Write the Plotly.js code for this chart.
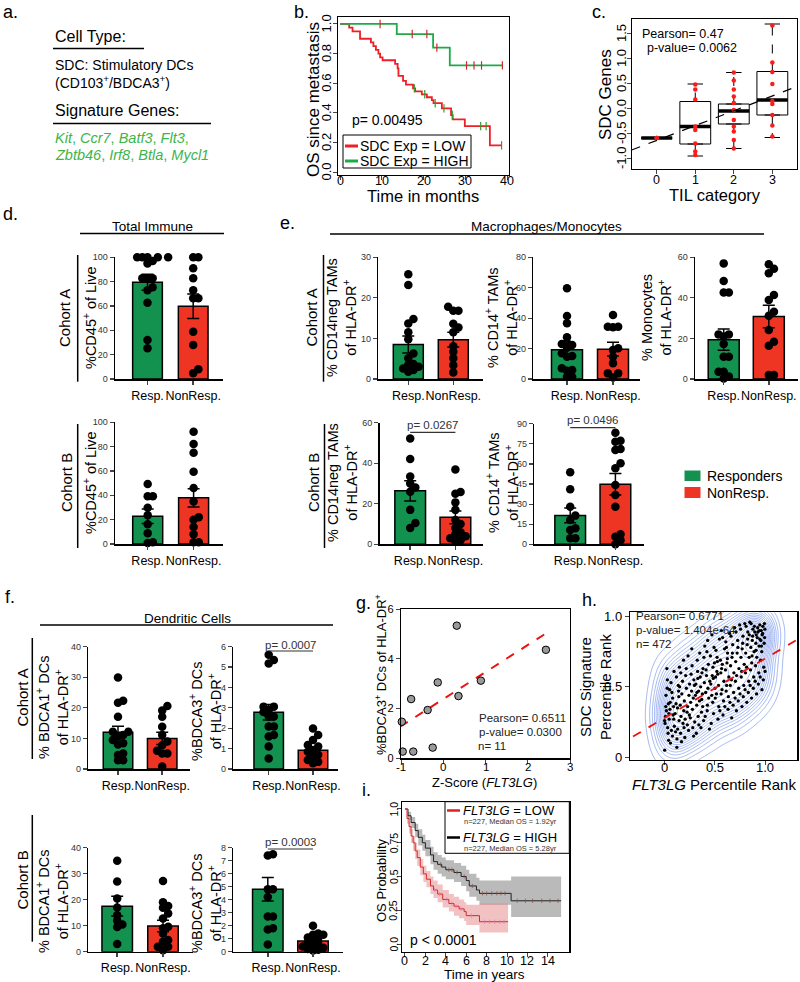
<!DOCTYPE html>
<html><head><meta charset="utf-8">
<script src="https://cdn.plot.ly/plotly-3.0.1.min.js"></script>
<style>body{margin:0;background:#fff}#chart{width:800px;height:982px}</style>
</head><body><div id="chart"></div>
<script>
// ================= DATA =================
const groupLabels = ['Resp.', 'NonResp.'];

// panel b : Kaplan-Meier (months)
const bHighT = [0, 13.6, 22.3, 26.3];
const bHighS = [1.0, 0.932, 0.84, 0.72];
const bHighEnd = 39.0;
const bHighCensor = [9.6, 17.3, 20.8, 23.2, 30.3, 32.1, 33.9, 38.9];
const bLowT = [0, 2.2, 3.0, 4.8, 7.4, 8.0, 8.6, 9.2, 9.6, 10.2, 13.2, 13.8, 14.0, 15.1, 15.8, 17.5, 18.0, 19.6, 20.8, 22.0, 22.4, 24.4, 26.6, 27.0, 29.9, 35.9];
const bLowS = [1.0, 0.975, 0.95, 0.90, 0.875, 0.85, 0.825, 0.80, 0.775, 0.755, 0.73, 0.70, 0.65, 0.615, 0.59, 0.565, 0.545, 0.525, 0.505, 0.485, 0.465, 0.43, 0.385, 0.355, 0.31, 0.18];
const bLowEnd = 38.7;
const bLowCensor = [17.8, 20.3, 22.8, 24.9, 26.9, 33.7, 35.0, 38.7];
const bXTicks = [0, 10, 20, 30, 40];
const bYTicks = [0, 0.2, 0.4, 0.6, 0.8, 1.0];

// panel c : boxplot SDC genes vs TIL category
const cGroups = [0, 1, 2, 3];
const cQ1 = [-0.6, -0.72, -0.32, -0.14];
const cMed = [-0.6, -0.37, -0.06, 0.16];
const cQ3 = [-0.6, 0.13, 0.08, 0.73];
const cLo = [-0.6, -0.96, -0.81, -0.59];
const cHi = [-0.6, 0.48, 0.71, 1.68];
const cPts = [
  [-0.6, -0.6, -0.6],
  [0.47, 0.37, 0.17, -0.37, -0.44, -0.71, -0.87, -0.94],
  [0.71, 0.55, 0.37, 0.23, 0.10, -0.04, -0.24, -0.37, -0.47, -0.64, -0.81],
  [1.65, 0.91, 0.72, 0.48, 0.14, 0.08, -0.14, -0.35, -0.57]
];
const cFitX = [-0.65, 3.64];
const cFitY = [-0.84, 0.43];
const cYTicks = [-1, -0.5, 0, 0.5, 1, 1.5];

// panel d : Total immune
const dA_mean = [79.5, 59.8], dA_sem = [6.6, 10.0];
const dA_resp = [100, 100, 100, 100, 100, 97, 95, 82.7, 82.7, 82.7, 75.3, 73, 62.7, 32, 25.2];
const dA_non = [100, 100, 91, 82.7, 73, 66.3, 66.3, 38.9, 28, 8, 4.7];
const dB_mean = [22.8, 38.0], dB_sem = [6.0, 7.5];
const dB_resp = [49.3, 39.3, 39.3, 29.8, 23.6, 16.3, 8.9, 1.4, 0.8];
const dB_non = [92.3, 82.2, 75, 59.4, 46, 35, 22, 20, 14, 8, 1.5, 1.5];

// panel e : Macrophages / Monocytes
const eA1_mean = [8.5, 9.7], eA1_sem = [2.1, 1.8];
const eA1_resp = [25.8, 23.2, 14.8, 13.7, 11.5, 9.8, 6.3, 5.1, 3.7, 3.5, 3.0, 2.6, 2.2, 1.8];
const eA1_non = [17.8, 16.8, 16.8, 13.6, 12.7, 11.5, 8.1, 6.7, 5.1, 3.4, 1.6];
const eA2_mean = [19.3, 19.6], eA2_sem = [4.1, 4.5];
const eA2_resp = [59.6, 41.4, 36.6, 27.4, 23.9, 23, 22.4, 20.5, 16.9, 15.1, 14.7, 7, 5.9, 5.5, 1.5, 1.5];
const eA2_non = [42.1, 34.4, 34.4, 34, 20.2, 19.1, 14.7, 10.3, 3.7, 3.7, 1];
const eA3_mean = [19.4, 30.8], eA3_sem = [5.2, 5.5];
const eA3_resp = [57, 48.3, 42.6, 42.6, 22, 22, 20.9, 17.3, 11, 11, 3.6, 3.6, 1.2, 0.3];
const eA3_non = [56.6, 54.3, 52.1, 41.4, 39, 33.2, 31.2, 24.2, 18.4, 16.4, 2, 2];
const eB1_mean = [26.4, 13.3], eB1_sem = [5.0, 3.2];
const eB1_resp = [52.3, 42.1, 33.5, 30, 28, 26, 17, 10.5, 8];
const eB1_non = [36.9, 25.8, 25, 20.7, 17, 12, 10, 8, 6, 5, 4, 3, 2, 1.5];
const eB2_mean = [21.5, 44.8], eB2_sem = [5.5, 8.0];
const eB2_resp = [53.7, 41, 28.1, 21.4, 18.2, 11.9, 10.7, 4.5, 4.5];
const eB2_non = [83.3, 77.3, 76.6, 71.1, 70.4, 60.4, 56.7, 44.3, 36.8, 28.1, 7.5, 5.7, 3, 0];
const eB1_p = 'p= 0.0267', eB2_p = 'p= 0.0496';

// panel f : Dendritic cells
const fA1_mean = [12, 10], fA1_sem = [2.0, 2.0];
const fA1_resp = [29.9, 22.3, 21.7, 17.1, 12.2, 12.2, 11.1, 10.6, 9.5, 8.4, 8, 5.1, 4.6, 2.9, 2.9];
const fA1_non = [20.6, 19.1, 17.1, 13.8, 11.1, 9, 7.8, 6, 5.1, 5.1, 0.8];
const fA2_mean = [2.78, 0.92], fA2_sem = [0.38, 0.16];
const fA2_resp = [5.6, 5.35, 5.18, 3.06, 3.06, 2.9, 2.8, 2.57, 2.57, 2.08, 2.08, 1.67, 1.6, 1.1, 0.52];
const fA2_non = [1.99, 1.67, 1.42, 1.18, 1.1, 0.93, 0.85, 0.7, 0.6, 0.44, 0.35, 0.28];
const fB1_mean = [17.5, 9.9], fB1_sem = [3.8, 2.2];
const fB1_resp = [35, 27, 20.5, 17, 14, 12, 10.5, 9.5, 3];
const fB1_non = [27.2, 19, 17.6, 16.9, 14.7, 12.8, 9.6, 9, 7, 4.5, 3.8, 1.9, 1.9, 0.6];
const fB2_mean = [4.8, 0.82], fB2_sem = [0.9, 0.19];
const fB2_resp = [7.5, 7.4, 4.8, 4.8, 4.2, 2.7, 2.7, 1.8, 1.7, 0.56];
const fB2_non = [2.0, 1.4, 1.3, 1.3, 1.1, 1.0, 0.9, 0.7, 0.6, 0.5, 0.4, 0.3, 0.2, 0.15, 0.1];
const fA2_p = 'p= 0.0007', fB2_p = 'p= 0.0003';

// panel g : BDCA3 vs Z-score
const gX = [0.32, 2.43, -0.13, 0.89, -0.76, 0.36, -0.37, -0.98, -0.96, -0.71, -0.25];
const gY = [5.33, 4.36, 3.05, 3.12, 2.38, 2.50, 1.94, 1.47, 0.27, 0.27, 0.43];
const gFitX = [-1.02, 2.43], gFitY = [1.27, 5.02];
const gXTicks = [-1, 0, 1, 2, 3];

// panel h : percentile rank scatter (estimated sample of the point cloud)
const hX = [0.004,0.012,0.021,0.003,0.034,0.041,0.017,0.026,0.038,0.046,0.008,0.049,0.029,0.043,0.015,0.031,
0.056,0.071,0.083,0.094,0.062,0.067,0.088,0.097,0.059,0.100,0.076,0.081,0.092,0.053,
0.108,0.121,0.133,0.144,0.117,0.126,0.139,0.147,0.150,0.112,0.131,0.142,0.125,
0.158,0.166,0.181,0.193,0.199,0.162,0.174,0.186,0.191,0.153,0.171,0.196,0.164,
0.207,0.219,0.232,0.241,0.213,0.226,0.236,0.245,0.249,0.204,0.229,0.251,0.218,
0.262,0.271,0.283,0.294,0.258,0.276,0.288,0.291,0.299,0.266,0.279,0.302,0.273,
0.309,0.322,0.331,0.343,0.314,0.327,0.336,0.341,0.349,0.318,0.333,0.352,0.324,
0.361,0.372,0.384,0.391,0.357,0.369,0.378,0.393,0.398,0.364,0.381,0.402,0.374,
0.411,0.419,0.428,0.437,0.406,0.423,0.433,0.441,0.448,0.415,0.431,0.452,0.426,
0.462,0.471,0.483,0.489,0.458,0.476,0.481,0.494,0.503,0.466,0.486,0.498,0.473,
0.509,0.518,0.527,0.541,0.513,0.522,0.533,0.538,0.547,0.506,0.531,0.552,0.524,
0.561,0.573,0.579,0.588,0.557,0.569,0.583,0.592,0.598,0.564,0.576,0.601,0.567,
0.607,0.619,0.628,0.636,0.611,0.622,0.633,0.641,0.648,0.614,0.626,0.652,0.617,
0.658,0.667,0.679,0.688,0.662,0.672,0.683,0.691,0.699,0.655,0.676,0.703,0.669,
0.709,0.718,0.728,0.739,0.712,0.723,0.734,0.741,0.748,0.706,0.731,0.752,0.716,
0.761,0.768,0.781,0.789,0.757,0.773,0.784,0.793,0.799,0.764,0.778,0.802,0.771,
0.808,0.817,0.829,0.838,0.812,0.823,0.834,0.842,0.849,0.806,0.827,0.852,0.819,0.844,
0.859,0.868,0.879,0.887,0.862,0.873,0.883,0.891,0.898,0.856,0.877,0.902,0.866,0.894,0.871,
0.909,0.918,0.927,0.938,0.913,0.922,0.933,0.941,0.948,0.906,0.929,0.952,0.916,0.944,0.911,0.947,
0.958,0.967,0.978,0.987,0.962,0.971,0.983,0.991,0.998,0.956,0.976,1.000,0.969,0.994,0.964,0.996];
const hY = [0.05,0.29,0.33,0.26,0.21,0.38,0.44,0.63,0.17,0.31,0.24,0.27,0.49,0.12,0.36,0.55,
0.34,0.19,0.42,0.27,0.10,0.53,0.30,0.61,0.39,0.22,0.46,0.15,0.36,0.48,
0.31,0.57,0.20,0.43,0.38,0.13,0.51,0.26,0.64,0.18,0.35,0.47,0.07,
0.37,0.29,0.54,0.33,0.40,0.17,0.45,0.24,0.69,0.50,0.11,0.21,0.60,
0.27,0.49,0.36,0.19,0.58,0.32,0.72,0.44,0.30,0.14,0.23,0.52,0.63,
0.39,0.47,0.21,0.55,0.28,0.65,0.42,0.15,0.51,0.59,0.34,0.25,0.77,
0.44,0.37,0.61,0.23,0.52,0.69,0.29,0.47,0.40,0.17,0.56,0.74,0.46,
0.50,0.41,0.63,0.26,0.57,0.32,0.45,0.71,0.53,0.21,0.36,0.79,0.60,
0.46,0.58,0.37,0.66,0.29,0.75,0.49,0.42,0.20,0.62,0.83,0.54,0.33,
0.52,0.44,0.64,0.31,0.72,0.58,0.39,0.78,0.49,0.24,0.56,0.67,0.87,
0.57,0.45,0.68,0.36,0.76,0.61,0.27,0.51,0.84,0.42,0.59,0.33,0.71,
0.60,0.48,0.85,0.40,0.69,0.63,0.30,0.54,0.77,0.45,0.66,0.36,0.90,
0.62,0.51,0.74,0.43,0.82,0.67,0.34,0.57,0.88,0.47,0.70,0.39,0.78,
0.65,0.55,0.80,0.46,0.86,0.71,0.37,0.60,0.92,0.51,0.74,0.42,0.28,
0.68,0.58,0.83,0.49,0.89,0.74,0.40,0.63,0.94,0.54,0.78,0.45,0.33,
0.71,0.61,0.86,0.51,0.91,0.77,0.43,0.66,0.95,0.57,0.81,0.48,0.36,
0.74,0.64,0.89,0.54,0.93,0.80,0.46,0.71,0.96,0.60,0.84,0.51,0.39,0.87,
0.78,0.67,0.91,0.57,0.95,0.83,0.49,0.75,0.89,0.62,0.86,0.54,0.42,0.93,0.72,
0.81,0.71,0.92,0.60,0.87,0.85,0.52,0.79,0.94,0.65,0.89,0.57,0.45,0.90,0.76,0.84,
0.83,0.75,0.93,0.64,0.90,0.87,0.55,0.81,0.91,0.69,0.88,0.61,0.48,0.95,0.79,0.85];
const hFitX = [-0.31, 1.315], hFitY = [0.147, 0.834];
const hTicks = [0, 0.5, 1], hTickText = ['0', '0.5', '1.0'];

// panel i : Kaplan-Meier (years) with confidence bands
const iHighT = [0, 0.3, 0.6, 1.0, 1.3, 1.7, 2.0, 2.5, 2.8, 3.2, 3.6, 4.0, 4.8, 5.5, 6.0, 6.3, 7.0, 7.3, 10.4];
const iHighS = [1.0, 0.95, 0.90, 0.84, 0.79, 0.75, 0.71, 0.66, 0.61, 0.59, 0.57, 0.55, 0.53, 0.50, 0.47, 0.43, 0.40, 0.375, 0.32];
const iHighUp = [1.0, 0.98, 0.94, 0.89, 0.85, 0.81, 0.77, 0.72, 0.68, 0.66, 0.64, 0.62, 0.60, 0.58, 0.55, 0.52, 0.49, 0.47, 0.50];
const iHighLo = [1.0, 0.92, 0.86, 0.79, 0.73, 0.69, 0.65, 0.59, 0.55, 0.52, 0.50, 0.48, 0.46, 0.43, 0.39, 0.35, 0.32, 0.29, 0.20];
const iHighEnd = 15.3;
const iHighCensor = [3.5, 4.3, 4.6, 5.1, 5.8, 6.6, 7.6, 8.0, 8.5, 9.0, 9.4, 9.8, 11.0, 11.8, 12.5, 13.4, 14.2, 15.0];
const iLowT = [0, 0.2, 0.4, 0.6, 0.8, 1.0, 1.2, 1.5, 1.8, 2.1, 2.5, 2.8, 3.2, 3.7, 4.3, 4.8, 5.3, 5.8, 6.0, 7.3];
const iLowS = [1.0, 0.93, 0.87, 0.80, 0.75, 0.69, 0.64, 0.57, 0.52, 0.48, 0.43, 0.40, 0.37, 0.33, 0.30, 0.28, 0.26, 0.24, 0.21, 0.165];
const iLowUp = [1.0, 0.96, 0.91, 0.85, 0.80, 0.75, 0.70, 0.63, 0.58, 0.54, 0.50, 0.47, 0.44, 0.40, 0.37, 0.35, 0.33, 0.31, 0.29, 0.30];
const iLowLo = [1.0, 0.89, 0.82, 0.75, 0.69, 0.63, 0.58, 0.51, 0.46, 0.42, 0.37, 0.34, 0.31, 0.27, 0.24, 0.21, 0.19, 0.17, 0.14, 0.085];
const iLowEnd = 10.1;
const iLowCensor = [2.9, 3.4, 4.1, 4.6, 5.0, 5.5, 6.5, 7.8, 8.3, 8.8, 9.3, 9.7];
const iXTicks = [0, 2, 4, 6, 8, 10, 12, 14];
const iYTicks = [0, 0.25, 0.5, 0.75, 1.0];
const iYTickText = ['0.0', '0.25', '0.5', '0.75', '1.0'];

// ================= DRAWING =================
const W = 800, H = 982;
const X = v => v / W, Y = v => 1 - v / H;
const FONT = 'Liberation Sans, Arial, Helvetica, sans-serif';
const GREEN = '#12924e', RED = '#ee3524';
const layout = {width: W, height: H, margin: {l: 0, r: 0, t: 0, b: 0}, paper_bgcolor: '#fff',
  plot_bgcolor: 'rgba(0,0,0,0)', showlegend: false, font: {family: FONT, color: '#000'},
  shapes: [], annotations: []};
const traces = [];
let nAx = 0;
function axes(xd, yd, xo, yo) {
  nAx++; const s = nAx === 1 ? '' : String(nAx);
  layout['xaxis' + s] = Object.assign({domain: [X(xd[0]), X(xd[1])], anchor: 'y' + s, showgrid: false, zeroline: false, fixedrange: true}, xo);
  layout['yaxis' + s] = Object.assign({domain: [Y(yd[1]), Y(yd[0])], anchor: 'x' + s, showgrid: false, zeroline: false, fixedrange: true}, yo);
  return {x: 'x' + s, y: 'y' + s};
}
function txt(x, y, text, o) {
  o = o || {};
  const f = Object.assign({size: 13, family: FONT, color: '#000'}, o.font || {});
  const a = Object.assign({xref: 'paper', yref: 'paper', x: X(x), y: Y(y), text: text, showarrow: false,
    xanchor: 'center', yanchor: 'middle'}, o);
  a.font = f;
  layout.annotations.push(a);
}
// tick labels placed at axis values (R-style axes)
function xLabels(ax, vals, texts, ypx, size) {
  vals.forEach((v, i) => layout.annotations.push({xref: ax.x, yref: 'paper', x: v, y: Y(ypx), text: texts[i], showarrow: false,
    xanchor: 'center', yanchor: 'middle', font: {size: size, family: FONT, color: '#000'}}));
}
function yLabels(ax, vals, texts, xpx, size, angle) {
  vals.forEach((v, i) => layout.annotations.push({xref: 'paper', yref: ax.y, x: X(xpx), y: v, text: texts[i], showarrow: false,
    textangle: angle, xanchor: 'center', yanchor: 'middle', font: {size: size, family: FONT, color: '#000'}}));
}
function seg(x0, y0, x1, y1, w, c, extra) {
  layout.shapes.push(Object.assign({type: 'line', xref: 'paper', yref: 'paper', x0: X(x0), x1: X(x1), y0: Y(y0), y1: Y(y1),
    line: {color: c || '#000', width: w || 1.5}}, extra || {}));
}
function stepXY(t, s, end) { return {x: t.concat([end]), y: s.concat([s[s.length - 1]])}; }
function survAt(t, s, tc) { let v = s[0]; for (let i = 0; i < t.length; i++) if (t[i] <= tc) v = s[i]; return v; }
function swarm(vals, pxPerY, d) {
  const idx = vals.map((v, i) => i).sort((a, b) => vals[a] - vals[b]);
  const placed = []; const off = new Array(vals.length).fill(0);
  const cands = [0]; for (let s = 1; s < 16; s++) { cands.push(s * d * 0.6, -s * d * 0.6); }
  idx.forEach(i => {
    const yp = vals[i] * pxPerY;
    for (const c of cands) {
      if (placed.every(p => Math.hypot(p[0] - c, p[1] - yp) >= d * 0.6)) { off[i] = c; placed.push([c, yp]); break; }
    }
  });
  return off;
}
const boxAx = {ticks: 'outside', ticklen: 4, showline: true, mirror: true, linecolor: '#000', linewidth: 1, showticklabels: false};

// ---------- panel a ----------
txt(1, 12, 'a.', {xanchor: 'left', font: {size: 18}});
txt(53, 37, 'Cell Type:', {xanchor: 'left', font: {size: 16}});
seg(53, 48.5, 144, 48.5, 1.5);
txt(53, 65, 'SDC: Stimulatory DCs', {xanchor: 'left', font: {size: 14}});
txt(53, 82, '(CD103<sup>+</sup>/BDCA3<sup>+</sup>)', {xanchor: 'left', font: {size: 14}});
txt(53, 110, 'Signature Genes:', {xanchor: 'left', font: {size: 16}});
seg(53, 123.5, 211, 123.5, 1.5);
txt(53, 138, '<i>Kit</i>, <i>Ccr7</i>, <i>Batf3</i>, <i>Flt3</i>,', {xanchor: 'left', font: {size: 14.5, color: '#3cb54a'}});
txt(53, 155, '<i>Zbtb46</i>, <i>Irf8</i>, <i>Btla</i>, <i>Mycl1</i>', {xanchor: 'left', font: {size: 14.5, color: '#3cb54a'}});

// ---------- panel b ----------
(function () {
  const bGreen = '#1faa4a', bRed = '#ee1f26';
  const ax = axes([338, 509], [17, 175],
    Object.assign({range: [-0.48, 40.48], tickvals: bXTicks}, boxAx),
    Object.assign({range: [-0.02, 1.047], tickvals: bYTicks}, boxAx));
  xLabels(ax, bXTicks, bXTicks.map(String), 181, 12.5);
  yLabels(ax, bYTicks, bYTicks.map(v => v.toFixed(1)), 326.5, 13, -90);
  const lo = stepXY(bLowT, bLowS, bLowEnd), hi = stepXY(bHighT, bHighS, bHighEnd);
  traces.push({type: 'scatter', mode: 'lines', x: lo.x, y: lo.y, xaxis: ax.x, yaxis: ax.y, line: {shape: 'hv', color: bRed, width: 1.8}, hoverinfo: 'skip'});
  traces.push({type: 'scatter', mode: 'lines', x: hi.x, y: hi.y, xaxis: ax.x, yaxis: ax.y, line: {shape: 'hv', color: bGreen, width: 1.8}, hoverinfo: 'skip'});
  traces.push({type: 'scatter', mode: 'markers', x: bLowCensor, y: bLowCensor.map(t => survAt(bLowT, bLowS, t)), xaxis: ax.x, yaxis: ax.y, marker: {symbol: 'line-ns-open', size: 6, line: {color: bRed, width: 1.2}}, hoverinfo: 'skip'});
  traces.push({type: 'scatter', mode: 'markers', x: bHighCensor, y: bHighCensor.map(t => survAt(bHighT, bHighS, t)), xaxis: ax.x, yaxis: ax.y, marker: {symbol: 'line-ns-open', size: 6, line: {color: bGreen, width: 1.2}}, hoverinfo: 'skip'});
  txt(292, 12, 'b.', {xanchor: 'left', font: {size: 18}});
  txt(313, 100, 'OS since metastasis', {textangle: -90, font: {size: 17}});
  txt(423, 196, 'Time in months', {font: {size: 16.5}});
  txt(350, 120, 'p= 0.00495', {xanchor: 'left', font: {size: 14}});
  layout.shapes.push({type: 'rect', xref: 'paper', yref: 'paper', x0: X(343), x1: X(471), y0: Y(168), y1: Y(135), fillcolor: '#fff', line: {color: '#000', width: 1}, layer: 'above'});
  seg(345, 146, 358, 146, 3, bRed, {layer: 'above'});
  seg(345, 161, 358, 161, 3, bGreen, {layer: 'above'});
  txt(358, 146, 'SDC Exp = LOW', {xanchor: 'left', font: {size: 14}});
  txt(358, 161, 'SDC Exp = HIGH', {xanchor: 'left', font: {size: 14}});
})();

// ---------- panel c ----------
(function () {
  const ax = axes([631.7, 797], [19, 169],
    Object.assign({range: [-0.65, 3.64], tickvals: cGroups}, boxAx),
    Object.assign({range: [-1.22, 1.78], tickvals: cYTicks}, boxAx));
  xLabels(ax, cGroups, cGroups.map(String), 180, 12.5);
  yLabels(ax, cYTicks, cYTicks.map(v => v.toFixed(1)), 621, 13, -90);
  traces.push({type: 'box', orientation: 'v', x: cGroups, q1: cQ1, median: cMed, q3: cQ3, lowerfence: cQ1, upperfence: cQ3, width: 0.8,
    fillcolor: '#fff', line: {color: '#000', width: 1}, boxpoints: false, xaxis: ax.x, yaxis: ax.y, hoverinfo: 'skip'});
  const wx = [], wy = [], kx = [], ky = [], mx = [], my = [];
  cGroups.forEach((g, i) => {
    wx.push(g, g, null, g, g, null); wy.push(cQ3[i], cHi[i], null, cQ1[i], cLo[i], null);
    kx.push(g - 0.2, g + 0.2, null, g - 0.2, g + 0.2, null); ky.push(cHi[i], cHi[i], null, cLo[i], cLo[i], null);
    mx.push(g - 0.4, g + 0.4, null); my.push(cMed[i], cMed[i], null);
  });
  traces.push({type: 'scatter', mode: 'lines', x: wx, y: wy, xaxis: ax.x, yaxis: ax.y, line: {color: '#000', width: 1, dash: 'dash'}, hoverinfo: 'skip'});
  traces.push({type: 'scatter', mode: 'lines', x: kx, y: ky, xaxis: ax.x, yaxis: ax.y, line: {color: '#000', width: 1}, hoverinfo: 'skip'});
  traces.push({type: 'scatter', mode: 'lines', x: mx, y: my, xaxis: ax.x, yaxis: ax.y, line: {color: '#000', width: 3.5}, hoverinfo: 'skip'});
  const px = [], py = [];
  cPts.forEach((arr, g) => arr.forEach(v => { px.push(g); py.push(v); }));
  traces.push({type: 'scatter', mode: 'markers', x: px, y: py, xaxis: ax.x, yaxis: ax.y, marker: {color: '#ff1a1a', size: 4.5}, hoverinfo: 'skip'});
  traces.push({type: 'scatter', mode: 'lines', x: cFitX, y: cFitY, xaxis: ax.x, yaxis: ax.y, line: {color: '#000', width: 1.2, dash: 'dash'}, hoverinfo: 'skip'});
  txt(590, 12, 'c.', {xanchor: 'left', font: {size: 18}});
  txt(605, 95, 'SDC Genes', {textangle: -90, font: {size: 17}});
  txt(715, 195, 'TIL category', {font: {size: 16.5}});
  txt(640, 34, 'Pearson= 0.47', {xanchor: 'left', font: {size: 12.5}});
  txt(645, 48, 'p-value= 0.0062', {xanchor: 'left', font: {size: 12.5}});
})();

// ---------- bar panels ----------
function barPanel(g, means, sems, pr, pn, ymax, dtick) {
  const spc = g.c1 - g.c0;
  const ax = axes([g.xa, g.xe], [g.yt, g.y0],
    {range: [(g.xa - g.c0) / spc, 1 + (g.xe - g.c1) / spc], tickvals: [0, 1], ticktext: groupLabels, tickangle: 0, ticks: 'outside', ticklen: 4, tickwidth: 1.5,
      showline: true, linewidth: 1.5, linecolor: '#000', tickfont: {size: 12.5}},
    {range: [0, ymax], tick0: 0, dtick: dtick, ticks: 'outside', ticklen: 4, tickwidth: 1.2, showline: true, linewidth: 1.5, linecolor: '#000',
      tickfont: {size: 9, color: '#333'}});
  traces.push({type: 'bar', x: [0, 1], y: means, width: g.bw / spc, xaxis: ax.x, yaxis: ax.y,
    marker: {color: [GREEN, RED], line: {color: '#000', width: 1.5}}, hoverinfo: 'skip'});
  const pxPerY = (g.y0 - g.yt) / ymax;
  [pr, pn].forEach((vals, k) => {
    const off = swarm(vals, pxPerY, 8.6);
    traces.push({type: 'scatter', mode: 'markers', x: vals.map((v, i) => k + off[i] / spc), y: vals, xaxis: ax.x, yaxis: ax.y,
      marker: {color: '#000', size: 8.5}, cliponaxis: false, hoverinfo: 'skip'});
  });
  traces.push({type: 'scatter', mode: 'markers', x: [0, 1], y: means, xaxis: ax.x, yaxis: ax.y, marker: {size: 1, color: 'rgba(0,0,0,0)'},
    error_y: {type: 'data', array: sems, color: '#000', thickness: 1.5, width: 6}, cliponaxis: false, hoverinfo: 'skip'});
  return ax;
}
function pMark(ax, text, yLine, yText) {
  layout.shapes.push({type: 'line', xref: ax.x, yref: 'paper', x0: 0, x1: 1, y0: Y(yLine), y1: Y(yLine), line: {color: '#333', width: 1.2}});
  layout.annotations.push({xref: ax.x, yref: 'paper', x: 0.5, y: Y(yText), text: text, showarrow: false, xanchor: 'center', yanchor: 'middle', font: {size: 11.5, family: FONT, color: '#333'}});
}
const geo = {
  dA: {xa: 115, c0: 147.5, c1: 193.2, xe: 223, bw: 29.7, yt: 257.3, y0: 379},
  dB: {xa: 115, c0: 147.7, c1: 193.6, xe: 223, bw: 30, yt: 422.3, y0: 544},
  eA1: {xa: 378.3, c0: 408.3, c1: 453.3, xe: 483, bw: 30, yt: 257.3, y0: 379},
  eA2: {xa: 533.3, c0: 567, c1: 613, xe: 640, bw: 31, yt: 257.3, y0: 379},
  eA3: {xa: 695, c0: 723.7, c1: 768.8, xe: 798, bw: 31, yt: 257.3, y0: 379},
  eB1: {xa: 379.5, c0: 410.2, c1: 455.4, xe: 483, bw: 30.7, yt: 422.8, y0: 544.3},
  eB2: {xa: 534.4, c0: 570.2, c1: 615.4, xe: 644, bw: 30.7, yt: 423.7, y0: 544.3},
  fA1: {xa: 88.3, c0: 118, c1: 162.2, xe: 190, bw: 29.5, yt: 646.7, y0: 769},
  fA2: {xa: 233.3, c0: 268.7, c1: 313, xe: 338, bw: 29.5, yt: 646.7, y0: 769},
  fB1: {xa: 88.3, c0: 117.2, c1: 163, xe: 193, bw: 30.5, yt: 847.7, y0: 951.7},
  fB2: {xa: 233.3, c0: 267.8, c1: 313, xe: 343, bw: 30.5, yt: 847.7, y0: 951.7}
};
barPanel(geo.dA, dA_mean, dA_sem, dA_resp, dA_non, 100, 20);
barPanel(geo.dB, dB_mean, dB_sem, dB_resp, dB_non, 100, 20);
barPanel(geo.eA1, eA1_mean, eA1_sem, eA1_resp, eA1_non, 30, 10);
barPanel(geo.eA2, eA2_mean, eA2_sem, eA2_resp, eA2_non, 80, 20);
barPanel(geo.eA3, eA3_mean, eA3_sem, eA3_resp, eA3_non, 60, 20);
const axEB1 = barPanel(geo.eB1, eB1_mean, eB1_sem, eB1_resp, eB1_non, 60, 20);
const axEB2 = barPanel(geo.eB2, eB2_mean, eB2_sem, eB2_resp, eB2_non, 90, 15);
barPanel(geo.fA1, fA1_mean, fA1_sem, fA1_resp, fA1_non, 40, 10);
const axFA2 = barPanel(geo.fA2, fA2_mean, fA2_sem, fA2_resp, fA2_non, 6, 1);
barPanel(geo.fB1, fB1_mean, fB1_sem, fB1_resp, fB1_non, 40, 10);
const axFB2 = barPanel(geo.fB2, fB2_mean, fB2_sem, fB2_resp, fB2_non, 8, 1);
pMark(axEB1, eB1_p, 432.3, 425);
pMark(axEB2, eB2_p, 427.7, 420);
pMark(axFA2, fA2_p, 651, 644.5);
pMark(axFB2, fB2_p, 849, 842);

// d / e / f labels
txt(1, 214, 'd.', {xanchor: 'left', font: {size: 18}});
txt(152, 226, 'Total Immune', {font: {size: 13.5}});
seg(80, 233.5, 224, 233.5, 1.5);
txt(278, 223, 'e.', {xanchor: 'left', font: {size: 18}});
txt(546, 227, 'Macrophages/Monocytes', {font: {size: 13.5}});
seg(330, 234, 764, 234, 1.5);
txt(3, 597, 'f.', {xanchor: 'left', font: {size: 18}});
txt(187, 618, 'Dendritic Cells', {font: {size: 13.5}});
seg(40, 625, 333, 625, 1.5);

const ycoh = [[65, 318, 'Cohort A', 77.7, 255, 381.7], [66, 483, 'Cohort B', 77.7, 424, 548],
  [311.5, 318, 'Cohort A', 323.5, 255, 381.7], [313, 483, 'Cohort B', 324.5, 424, 548],
  [21.5, 698, 'Cohort A', 32.3, 638, 759], [21.5, 880, 'Cohort B', 32.3, 815, 941.7]];
ycoh.forEach(c => { txt(c[0], c[1], c[2], {textangle: -90, font: {size: 15}}); seg(c[3], c[4], c[3], c[5], 1.5); });

txt(90, 318, '%CD45<sup>+</sup> of Live', {textangle: -90, font: {size: 14.5}});
txt(90, 483, '%CD45<sup>+</sup> of Live', {textangle: -90, font: {size: 14.5}});
txt(342, 318, '% CD14neg TAMs<br>of HLA-DR<sup>+</sup>', {textangle: -90, font: {size: 14.5}});
txt(342, 483, '% CD14neg TAMs<br>of HLA-DR<sup>+</sup>', {textangle: -90, font: {size: 14.5}});
txt(502, 318, '% CD14<sup>+</sup> TAMs<br>of HLA-DR<sup>+</sup>', {textangle: -90, font: {size: 14.5}});
txt(502, 483, '% CD14<sup>+</sup> TAMs<br>of HLA-DR<sup>+</sup>', {textangle: -90, font: {size: 14.5}});
txt(657, 318, '% Monocytes<br>of HLA-DR<sup>+</sup>', {textangle: -90, font: {size: 14.5}});
txt(52, 708, '% BDCA1<sup>+</sup> DCs<br>of HLA-DR<sup>+</sup>', {textangle: -90, font: {size: 14.5}});
txt(205, 711, '%BDCA3<sup>+</sup> DCs<br>of HLA-DR<sup>+</sup>', {textangle: -90, font: {size: 14.5}});
txt(52, 902, '% BDCA1<sup>+</sup> DCs<br>of HLA-DR<sup>+</sup>', {textangle: -90, font: {size: 14.5}});
txt(205, 903, '%BDCA3<sup>+</sup> DCs<br>of HLA-DR<sup>+</sup>', {textangle: -90, font: {size: 14.5}});

// responders legend
layout.shapes.push({type: 'rect', xref: 'paper', yref: 'paper', x0: X(684.5), x1: X(700.5), y0: Y(481), y1: Y(470.5), fillcolor: GREEN, line: {width: 0}});
layout.shapes.push({type: 'rect', xref: 'paper', yref: 'paper', x0: X(684.5), x1: X(700.5), y0: Y(498), y1: Y(487), fillcolor: RED, line: {width: 0}});
txt(705, 476, 'Responders', {xanchor: 'left', font: {size: 14}});
txt(705, 492.5, 'NonResp.', {xanchor: 'left', font: {size: 14}});

// ---------- panel g ----------
(function () {
  const ax = axes([401, 570], [609, 758.3],
    {range: [-1, 3], tickvals: gXTicks, ticks: 'outside', ticklen: 4, showline: true, mirror: true, linecolor: '#000', linewidth: 1.2, showticklabels: false},
    {range: [0, 6], tickvals: [0, 2, 4, 6], ticks: 'outside', ticklen: 4, showline: true, mirror: true, linecolor: '#000', linewidth: 1.2, tickfont: {size: 11}});
  xLabels(ax, gXTicks, gXTicks.map(String), 767, 11.5);
  traces.push({type: 'scatter', mode: 'lines', x: gFitX, y: gFitY, xaxis: ax.x, yaxis: ax.y, line: {color: '#ee1111', width: 2, dash: 'dash'}, hoverinfo: 'skip'});
  traces.push({type: 'scatter', mode: 'markers', x: gX, y: gY, xaxis: ax.x, yaxis: ax.y, cliponaxis: false,
    marker: {color: '#9a9a9a', size: 7.5, line: {color: '#000', width: 1}}, hoverinfo: 'skip'});
  txt(354, 603, 'g.', {xanchor: 'left', font: {size: 18}});
  txt(381, 675, '%BDCA3<sup>+</sup> DCs of HLA-DR<sup>+</sup>', {textangle: -90, font: {size: 13}});
  txt(485, 782, 'Z-Score (<i>FLT3LG</i>)', {font: {size: 13}});
  txt(476.5, 718, 'Pearson= 0.6511', {xanchor: 'left', font: {size: 11.5, color: '#222'}});
  txt(476.5, 732, 'p-value= 0.0300', {xanchor: 'left', font: {size: 11.5, color: '#222'}});
  txt(476.5, 745.5, 'n= 11', {xanchor: 'left', font: {size: 11.5, color: '#222'}});
})();

// ---------- panel h ----------
(function () {
  const ax = axes([630, 797.3], [612.3, 760],
    {range: [-0.34, 1.32], tickvals: hTicks, ticks: 'outside', ticklen: 4, showline: true, mirror: true, linecolor: '#000', linewidth: 1.2, showticklabels: false},
    {range: [-0.02, 1.03], tickvals: hTicks, ticktext: hTickText, ticks: 'outside', ticklen: 4, showline: true, mirror: true, linecolor: '#000', linewidth: 1.2, tickfont: {size: 13}});
  xLabels(ax, hTicks, hTickText, 767, 13);
  // kernel density of the plotted points, drawn as contour lines
  const gx = [], gy = [];
  for (let v = -0.34; v <= 1.321; v += 0.02) gx.push(+v.toFixed(3));
  for (let v = -0.02; v <= 1.031; v += 0.015) gy.push(+v.toFixed(3));
  const bw = 0.1, z = [];
  let zmax = 0;
  gy.forEach(yv => {
    const row = [];
    gx.forEach(xv => {
      let s = 0;
      for (let i = 0; i < hX.length; i++) { const dx = (xv - hX[i]) / bw, dy = (yv - hY[i]) / bw; s += Math.exp(-0.5 * (dx * dx + dy * dy)); }
      row.push(s); if (s > zmax) zmax = s;
    });
    z.push(row);
  });
  const start = zmax * 0.04, end = zmax * 0.97;
  traces.push({type: 'contour', x: gx, y: gy, z: z, xaxis: ax.x, yaxis: ax.y, showscale: false, hoverinfo: 'skip',
    contours: {coloring: 'lines', start: start, end: end, size: (end - start) / 17},
    line: {width: 0.7, smoothing: 1}, colorscale: [[0, '#7f9bec'], [1, '#7f9bec']]});
  traces.push({type: 'scatter', mode: 'markers', x: hX, y: hY, xaxis: ax.x, yaxis: ax.y, marker: {color: '#000', size: 3.3}, hoverinfo: 'skip'});
  traces.push({type: 'scatter', mode: 'lines', x: hFitX, y: hFitY, xaxis: ax.x, yaxis: ax.y, line: {color: '#ee1111', width: 1.8, dash: 'dash'}, hoverinfo: 'skip'});
  txt(580, 600, 'h.', {xanchor: 'left', font: {size: 18}});
  txt(595, 687, 'SDC Signature<br>Percentile Rank', {textangle: -90, font: {size: 15}});
  txt(714, 784, '<i>FLT3LG</i> Percentile Rank', {font: {size: 15}});
  txt(633.5, 615.5, 'Pearson= 0.6771', {xanchor: 'left', font: {size: 11.5, color: '#222'}});
  txt(633.5, 630, 'p-value= 1.404e-64', {xanchor: 'left', font: {size: 11.5, color: '#222'}});
  txt(633.5, 643.5, 'n= 472', {xanchor: 'left', font: {size: 11.5, color: '#222'}});
})();

// ---------- panel i ----------
(function () {
  const ax = axes([401.7, 569.3], [801.7, 951.7],
    Object.assign({range: [-0.32, 16.1], tickvals: iXTicks}, boxAx, {linewidth: 1.2}),
    Object.assign({range: [-0.057, 1.054], tickvals: iYTicks}, boxAx, {linewidth: 1.2}));
  xLabels(ax, iXTicks, iXTicks.map(String), 961, 12.5);
  yLabels(ax, iYTicks, iYTickText, 393.5, 10.5, -90);
  function band(t, lo, up, end, col) {
    const a = stepXY(t, lo, end), b = stepXY(t, up, end);
    traces.push({type: 'scatter', mode: 'lines', x: a.x, y: a.y, xaxis: ax.x, yaxis: ax.y, line: {shape: 'hv', width: 0}, hoverinfo: 'skip'});
    traces.push({type: 'scatter', mode: 'lines', x: b.x, y: b.y, xaxis: ax.x, yaxis: ax.y, line: {shape: 'hv', width: 0}, fill: 'tonexty', fillcolor: col, hoverinfo: 'skip'});
  }
  band(iHighT, iHighLo, iHighUp, iHighEnd, 'rgba(140,140,140,0.6)');
  band(iLowT, iLowLo, iLowUp, iLowEnd, 'rgba(226,120,120,0.45)');
  const hi = stepXY(iHighT, iHighS, iHighEnd), lo = stepXY(iLowT, iLowS, iLowEnd);
  traces.push({type: 'scatter', mode: 'lines', x: hi.x, y: hi.y, xaxis: ax.x, yaxis: ax.y, line: {shape: 'hv', color: '#222', width: 1}, hoverinfo: 'skip'});
  traces.push({type: 'scatter', mode: 'lines', x: lo.x, y: lo.y, xaxis: ax.x, yaxis: ax.y, line: {shape: 'hv', color: '#d42a2a', width: 1}, hoverinfo: 'skip'});
  traces.push({type: 'scatter', mode: 'markers', x: iHighCensor, y: iHighCensor.map(t => survAt(iHighT, iHighS, t)), xaxis: ax.x, yaxis: ax.y, marker: {symbol: 'line-ns-open', size: 3, line: {color: '#222', width: 0.8}}, hoverinfo: 'skip'});
  traces.push({type: 'scatter', mode: 'markers', x: iLowCensor, y: iLowCensor.map(t => survAt(iLowT, iLowS, t)), xaxis: ax.x, yaxis: ax.y, marker: {symbol: 'line-ns-open', size: 3, line: {color: '#d42a2a', width: 0.8}}, hoverinfo: 'skip'});
  txt(360, 790, 'i.', {xanchor: 'left', font: {size: 18}});
  txt(381, 880, 'OS Probability', {textangle: -90, font: {size: 13}});
  txt(485, 974, 'Time in years', {font: {size: 13.5}});
  txt(408, 940, 'p < 0.0001', {xanchor: 'left', font: {size: 14}});
  layout.shapes.push({type: 'rect', xref: 'paper', yref: 'paper', x0: X(445), x1: X(569.3), y0: Y(853.3), y1: Y(801.7), fillcolor: '#fff', line: {color: '#000', width: 1}, layer: 'above'});
  seg(447, 810.5, 460, 810.5, 2.5, '#e02020', {layer: 'above'});
  seg(447, 837.5, 460, 837.5, 2.5, '#000', {layer: 'above'});
  txt(460.5, 810.5, '<i>FLT3LG</i> = LOW', {xanchor: 'left', font: {size: 13}});
  txt(461.5, 821.5, 'n=227, Median OS = 1.92yr', {xanchor: 'left', font: {size: 7.5, color: '#333'}});
  txt(460.5, 837.5, '<i>FLT3LG</i> = HIGH', {xanchor: 'left', font: {size: 13}});
  txt(461.5, 848.5, 'n=227, Median OS = 5.28yr', {xanchor: 'left', font: {size: 7.5, color: '#333'}});
})();

Plotly.newPlot('chart', traces, layout, {staticPlot: true, displayModeBar: false});
</script>
</body></html>
